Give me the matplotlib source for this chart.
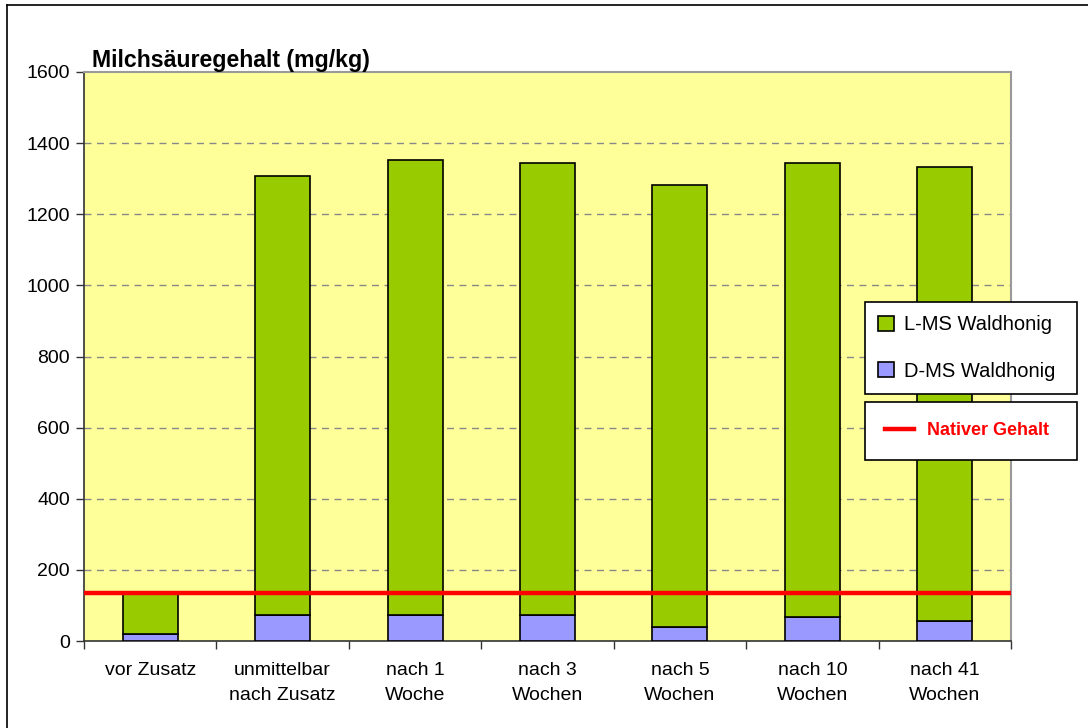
import matplotlib
matplotlib.use("Agg")
import matplotlib.pyplot as plt
from matplotlib.lines import Line2D
from matplotlib.patches import Patch
import numpy as np

plt.rcParams['font.family'] = ['Liberation Sans', 'DejaVu Sans']

categories = ["vor Zusatz", "unmittelbar\nnach Zusatz", "nach 1\nWoche", "nach 3\nWochen",
              "nach 5\nWochen", "nach 10\nWochen", "nach 41\nWochen"]
d_ms = [20, 73, 73, 73, 39, 68, 56]
l_ms = [115, 1235, 1280, 1272, 1244, 1277, 1277]
nativ = 134

W, H = 1088, 728
fig = plt.figure(figsize=(W / 100, H / 100), dpi=100)
ax = fig.add_axes([84 / W, 1 - 641 / H, (1011 - 84) / W, (641 - 72) / H])
ax.set_facecolor('#FFFF99')

x = np.arange(len(categories))
bw = 0.415
ax.bar(x, d_ms, bw, color='#9999FF', edgecolor='black', linewidth=1.2, zorder=3,
       label='D-MS Waldhonig')
ax.bar(x, l_ms, bw, bottom=d_ms, color='#99CC00', edgecolor='black', linewidth=1.2,
       zorder=3, label='L-MS Waldhonig')
ax.axhline(nativ, color='#FF0000', linewidth=3.2, zorder=4)

ax.set_xlim(-0.5, len(categories) - 0.5)
ax.set_ylim(0, 1600)
ax.set_yticks(range(0, 1601, 200))
ax.set_xticks(x)
ax.set_xticklabels(categories, fontsize=14, linespacing=1.6)
ax.set_xticks(np.arange(-0.5, len(categories)), minor=True)
ax.tick_params(axis='x', which='major', length=0, pad=15)
ax.tick_params(axis='x', which='minor', length=6, width=1, color='#333333')
ax.tick_params(axis='y', length=6, width=1, color='#333333', labelsize=14, pad=4)

for yv in range(200, 1600, 200):
    ax.axhline(yv, color='#888888', linewidth=1, linestyle=(0, (5, 4)), zorder=1)

for s in ['top', 'right']:
    ax.spines[s].set_color('#999999')
    ax.spines[s].set_linewidth(1.5)
for s in ['left', 'bottom']:
    ax.spines[s].set_color('#333333')
    ax.spines[s].set_linewidth(1.2)

fig.text(92 / W, 1 - 60 / H, "Milchsäuregehalt (mg/kg)", fontsize=16.7, fontweight='bold',
         va='center', ha='left')

handles1 = [Patch(facecolor='#99CC00', edgecolor='black', linewidth=1.2),
            Patch(facecolor='#9999FF', edgecolor='black', linewidth=1.2)]
leg1 = fig.legend(handles1, ['L-MS Waldhonig', 'D-MS Waldhonig'], loc='upper left',
                  bbox_to_anchor=(865 / W, 1 - 303 / H, 212 / W, 0.001), mode='expand',
                  fontsize=14.5, fancybox=False, framealpha=1, edgecolor='black',
                  handlelength=0.8, handleheight=0.8, handletextpad=0.5,
                  labelspacing=1.35, borderpad=0.65, borderaxespad=0)
leg1.get_frame().set_linewidth(1.2)

handles2 = [Line2D([], [], color='#FF0000', linewidth=3.2)]
leg2 = fig.legend(handles2, ['Nativer Gehalt'], loc='upper left',
                  bbox_to_anchor=(865 / W, 1 - 403 / H, 212 / W, 0.001), mode='expand',
                  fontsize=13, fancybox=False, framealpha=1, edgecolor='black',
                  handlelength=1.6, handletextpad=0.7, borderpad=1.12, borderaxespad=0)
leg2.get_frame().set_linewidth(1.2)
for t in leg2.get_texts():
    t.set_color('#FF0000')
    t.set_fontweight('bold')

# outer chart border (left and top edges visible)
fig.add_artist(Line2D([7 / W, 7 / W], [0, 1 - 5 / H], color='black', linewidth=1.2,
                      transform=fig.transFigure))
fig.add_artist(Line2D([7 / W, 1], [1 - 5 / H, 1 - 5 / H], color='black', linewidth=1.2,
                      transform=fig.transFigure))

fig.savefig('out.png', dpi=100)
